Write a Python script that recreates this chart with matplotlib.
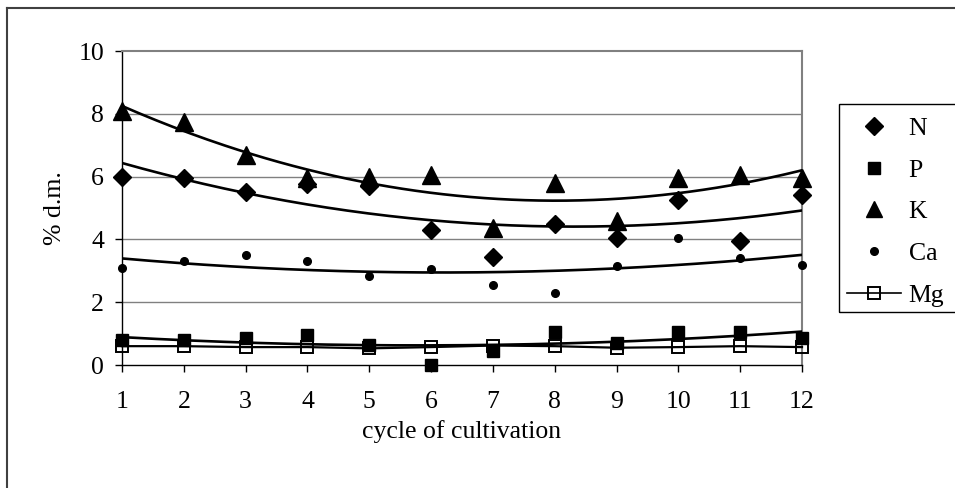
import matplotlib
matplotlib.use("Agg")
import matplotlib.pyplot as plt
import numpy as np
from matplotlib.lines import Line2D
from matplotlib.patches import Rectangle

plt.rcParams.update({
    "font.family": "Liberation Serif",
    "font.size": 18.5,
})

CYCLES = np.arange(1, 13)
N = [6.0, 5.95, 5.5, 5.75, 5.7, 4.3, 3.45, 4.5, 4.05, 5.25, 3.95, 5.4]
P = [0.8, 0.8, 0.85, 0.95, 0.65, 0.0, 0.45, 1.05, 0.7, 1.05, 1.05, 0.85]
K = [8.1, 7.75, 6.7, 5.95, 6.0, 6.05, 4.35, 5.8, 4.6, 5.95, 6.05, 5.95]
CA = [3.1, 3.3, 3.5, 3.3, 2.85, 3.05, 2.55, 2.3, 3.15, 4.05, 3.4, 3.2]
MG = [0.6, 0.6, 0.57, 0.57, 0.53, 0.57, 0.62, 0.6, 0.55, 0.57, 0.6, 0.57]

W, H = 955, 488
fig = plt.figure(figsize=(W / 100, H / 100), dpi=100)
ax = fig.add_axes([122 / W, 1 - 365 / H, (802 - 122) / W, (365 - 51) / H])

ax.set_xlim(1, 12)
ax.set_ylim(0, 10)
ax.set_xticks(CYCLES)
ax.set_yticks(np.arange(0, 11, 2))
for yv in (2, 4, 6, 8):
    ax.axhline(yv, color="#808080", lw=1.0, zorder=0)
for s in ("top", "right"):
    ax.spines[s].set_color("#808080")
    ax.spines[s].set_linewidth(1.5)
for s in ("left", "bottom"):
    ax.spines[s].set_color("black")
    ax.spines[s].set_linewidth(1.0)
ax.tick_params(direction="out", length=5, width=1, pad=8)
ax.tick_params(axis="x", pad=14)

# quadratic trend lines (Excel-style polynomial fits)
xf = np.linspace(1, 12, 200)
for ys in (K, N, CA, P):
    c = np.polyfit(CYCLES, ys, 2)
    ax.plot(xf, np.polyval(c, xf), color="black", lw=1.9, zorder=3)

kw = dict(ls="none", color="black", clip_on=False)
ax.plot(CYCLES, MG, color="black", lw=1.6, marker="s", ms=8,
        mfc="none", mec="black", mew=1.4, clip_on=False, zorder=4)
ax.plot(CYCLES, N, marker="D", ms=9, zorder=5, **kw)
ax.plot(CYCLES, P, marker="s", ms=9, zorder=5, **kw)
ax.plot(CYCLES, K, marker="^", ms=12.5, zorder=5, **kw)
ax.plot(CYCLES, CA, marker="o", ms=5.5, zorder=5, **kw)

ax.set_xlabel("cycle of cultivation", labelpad=5)
ax.set_ylabel("% d.m.", labelpad=9)

# legend
handles = [
    Line2D([], [], ls="none", marker="D", ms=9, color="black"),
    Line2D([], [], ls="none", marker="s", ms=9, color="black"),
    Line2D([], [], ls="none", marker="^", ms=12, color="black"),
    Line2D([], [], ls="none", marker="o", ms=5.5, color="black"),
    Line2D([], [], color="black", lw=1.2, marker="s", ms=8, mfc="none",
           mec="black", mew=1.4),
]
fig.legend(handles, ["N", "P", "K", "Ca", "Mg"], loc="upper left",
           bbox_to_anchor=(847 / W, 1 - 117 / H), frameon=False,
           borderpad=0, borderaxespad=0, handlelength=2.1,
           handletextpad=0.3, labelspacing=0.73)
fig.patches.append(Rectangle((839 / W, 1 - 312 / H), 0.2, (312 - 104) / H,
                             transform=fig.transFigure, fill=False,
                             ec="black", lw=1.0))

# outer chart border (left and top edges visible)
fig.add_artist(Line2D([7 / W, 7 / W], [0, 1 - 8 / H], color="#404040",
                      lw=1.5, transform=fig.transFigure))
fig.add_artist(Line2D([7 / W, 1], [1 - 8 / H, 1 - 8 / H], color="#404040",
                      lw=1.5, transform=fig.transFigure))

fig.savefig("out.png", dpi=100)
